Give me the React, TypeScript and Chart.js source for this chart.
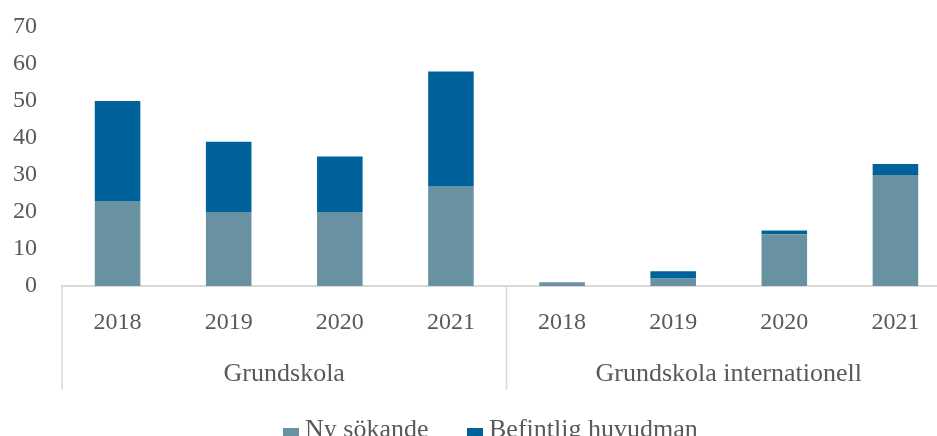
import React, { useEffect, useRef } from "react";
import { Chart, registerables } from "chart.js";

Chart.register(...registerables);

const years = ["2018", "2019", "2020", "2021", "2018", "2019", "2020", "2021"];
const groups = ["Grundskola", "Grundskola internationell"];
const groupSize = 4;
const nySokande = [23, 20, 20, 27, 1, 2, 14, 30];
const befintlig = [27, 19, 15, 31, 0, 2, 1, 3];
const yTicks = [0, 10, 20, 30, 40, 50, 60, 70];

const FONT = "'Liberation Serif', serif";
const TEXT = "#595959";
const LINE = "#d9d9d9";

const groupPlugin = {
  id: "groupPlugin",
  afterDraw(chart: any) {
    const { ctx, chartArea, scales } = chart;
    const x = scales.x;
    ctx.save();
    ctx.strokeStyle = LINE;
    ctx.lineWidth = 1.5;
    const bottom = chartArea.bottom;
    const lineEnd = bottom + 104;
    for (let g = 0; g <= groups.length; g++) {
      let px: number;
      if (g === 0) px = chartArea.left;
      else if (g === groups.length) px = chartArea.right;
      else {
        const a = x.getPixelForValue(g * groupSize - 1);
        const b = x.getPixelForValue(g * groupSize);
        px = (a + b) / 2;
      }
      ctx.beginPath();
      ctx.moveTo(px, bottom);
      ctx.lineTo(px, lineEnd);
      ctx.stroke();
    }
    ctx.fillStyle = TEXT;
    ctx.font = `26px ${FONT}`;
    ctx.textAlign = "center";
    ctx.textBaseline = "middle";
    groups.forEach((name, g) => {
      const a = x.getPixelForValue(g * groupSize);
      const b = x.getPixelForValue(g * groupSize + groupSize - 1);
      ctx.fillText(name, (a + b) / 2, bottom + 88);
    });
    const items = chart.data.datasets.map((d: any) => ({ label: d.label, color: d.backgroundColor }));
    const box = 16;
    const gapText = 6;
    const starts = [283, 467];
    ctx.font = `26px ${FONT}`;
    ctx.textAlign = "left";
    ctx.textBaseline = "alphabetic";
    items.forEach((it: any, i: number) => {
      const cx = starts[i];
      ctx.fillStyle = it.color;
      ctx.fillRect(cx, 428, box, box);
      ctx.fillStyle = TEXT;
      ctx.fillText(it.label, cx + box + gapText, 437);
    });
    ctx.restore();
  },
};

export default function App() {
  const ref = useRef<HTMLCanvasElement>(null);
  useEffect(() => {
    if (!ref.current) return;
    const chart = new Chart(ref.current, {
      type: "bar",
      data: {
        labels: years,
        datasets: [
          { label: "Ny sökande", data: nySokande, backgroundColor: "#6891A1" },
          { label: "Befintlig huvudman", data: befintlig, backgroundColor: "#00629B" },
        ],
      },
      options: {
        responsive: false,
        animation: false,
        layout: { padding: { top: 27, bottom: 36, left: 0, right: 0 } },
        plugins: { legend: { display: false }, tooltip: { enabled: false } },
        datasets: { bar: { categoryPercentage: 1, barPercentage: 0.41 } },
        scales: {
          x: {
            stacked: true,
            grid: { display: false, drawTicks: false },
            border: { display: true, color: LINE, width: 2 },
            ticks: { color: TEXT, font: { family: FONT, size: 24 }, padding: 22, maxRotation: 0 },
            afterFit: (s: any) => {
              s.height = 114;
            },
          },
          y: {
            stacked: true,
            min: 0,
            max: 70,
            afterBuildTicks: (s: any) => {
              s.ticks = yTicks.map((v) => ({ value: v }));
            },
            grid: { display: false, drawTicks: true, tickLength: 25 },
            border: { display: false },
            ticks: { color: TEXT, font: { family: FONT, size: 24 }, padding: 0 },
            afterFit: (s: any) => {
              s.width = 62;
            },
          },
        },
      },
      plugins: [groupPlugin],
    });
    return () => chart.destroy();
  }, []);
  return (
    <div style={{ position: "fixed", left: 0, top: 0, width: 937, height: 436, overflow: "hidden", background: "#fff" }}>
      <canvas ref={ref} width={951} height={436} style={{ display: "block" }} />
    </div>
  );
}
